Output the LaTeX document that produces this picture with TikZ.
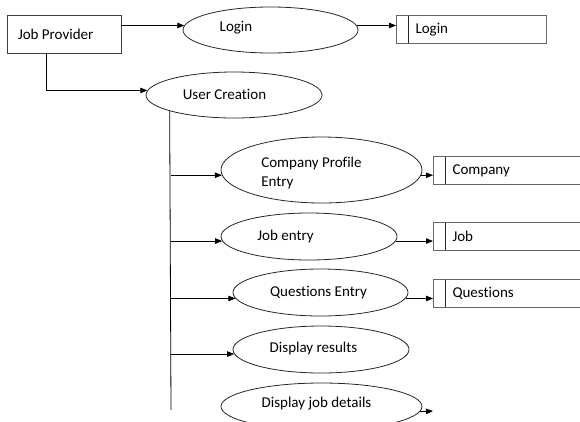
\documentclass[tikz,border=0pt]{standalone}
\usepackage{fontspec}
\setmainfont{Carlito}[Ligatures=NoCommon]
\usetikzlibrary{shapes.geometric,arrows.meta}
\tikzset{
    entity-box/.style = {draw=black!75, line width=0.9pt, rectangle, minimum height=38pt, text width=92pt, inner xsep=11pt, align=flush left},
    process-oval/.style = {draw=black!85, line width=0.8pt, ellipse, inner sep=0pt, minimum height=46pt},
    store-box/.style = {draw=black!60, line width=1pt, rectangle, anchor=west, minimum height=28pt, inner xsep=19pt, align=flush left,
        path picture={\draw[black!85, line width=0.9pt] ([xshift=12pt]path picture bounding box.north west) -- ([xshift=12pt]path picture bounding box.south west);}},
    flow-arrow/.style = {-{Triangle[length=7pt,width=5.5pt]}, line width=0.8pt},
    every node/.style = {font=\fontsize{15}{19}\selectfont},
}

\begin{document}
\begin{tikzpicture}[x=1pt, y=-1pt]
\useasboundingbox (0,0) rectangle (580,421);
\clip (0,0) rectangle (580,421);

\node[entity-box] (provider) at (64,34) {Job Provider};
\node[process-oval, minimum width=175pt, label={[xshift=-34.5pt,yshift=2pt]center:Login}] (login) at (270.5,30) {};
\node[store-box, text width=112pt] (login-store) at (396,29.5) {Login};

\node[process-oval, minimum width=176pt, label={[xshift=-9.5pt,yshift=1pt]center:User Creation}] (user-creation) at (234,95) {};

% processes hanging off the trunk
\node[process-oval, minimum width=201pt, minimum height=66pt, label={[align=left,xshift=-10pt,yshift=-2.5pt]center:Company Profile\\Entry}] (company-entry) at (321.5,170) {};
\node[store-box, text width=132pt] (company-store) at (433,170.5) {Company};
\node[process-oval, minimum width=176pt, minimum height=47pt, label={[xshift=-23.5pt,yshift=0.5pt]center:Job entry}] (job-entry) at (309,236.5) {};
\node[store-box, text width=132pt] (job-store) at (433,236.5) {Job};
\node[process-oval, minimum width=175pt, minimum height=47pt, label={[xshift=-2pt]center:Questions Entry}] (questions-entry) at (320.5,292.5) {};
\node[store-box, text width=132pt] (questions-store) at (433,293) {Questions};
\node[process-oval, minimum width=176pt, minimum height=47pt, label={[xshift=-7.5pt,yshift=1.5pt]center:Display results}] (display-results) at (321,349.5) {};
\node[process-oval, minimum width=201pt, minimum height=47pt, label={[xshift=-5pt,yshift=2.5pt]center:Display job details}] (display-details) at (321.5,406.5) {};

\coordinate (trunk-end) at (171,410);
\coordinate (details-out) at (433,411);

\draw[flow-arrow] (provider.east |- login.177) -- (login.177);
\draw[flow-arrow] (login.3) -- (login-store.west |- login.3);
\draw[flow-arrow] ([xshift=-18pt]provider.south) |- (user-creation.177);

\draw[line width=0.8pt] (user-creation.194.3) -- (trunk-end);
\draw[flow-arrow] (company-entry.183 -| trunk-end) -- (company-entry.183);
\draw[flow-arrow] (job-entry.183 -| trunk-end) -- (job-entry.183);
\draw[flow-arrow] (questions-entry.184 -| trunk-end) -- (questions-entry.184);
\draw[flow-arrow] (display-results.183 -| trunk-end) -- (display-results.183);

\draw[flow-arrow] (company-entry.357) -- (company-store.west |- company-entry.357);
\draw[flow-arrow] (job-entry.357) -- (job-store.west |- job-entry.357);
\draw[flow-arrow] (questions-entry.356) -- (questions-store.west |- questions-entry.356);
\draw[flow-arrow] (display-details.357.4) -- (details-out);
\end{tikzpicture}
\end{document}
